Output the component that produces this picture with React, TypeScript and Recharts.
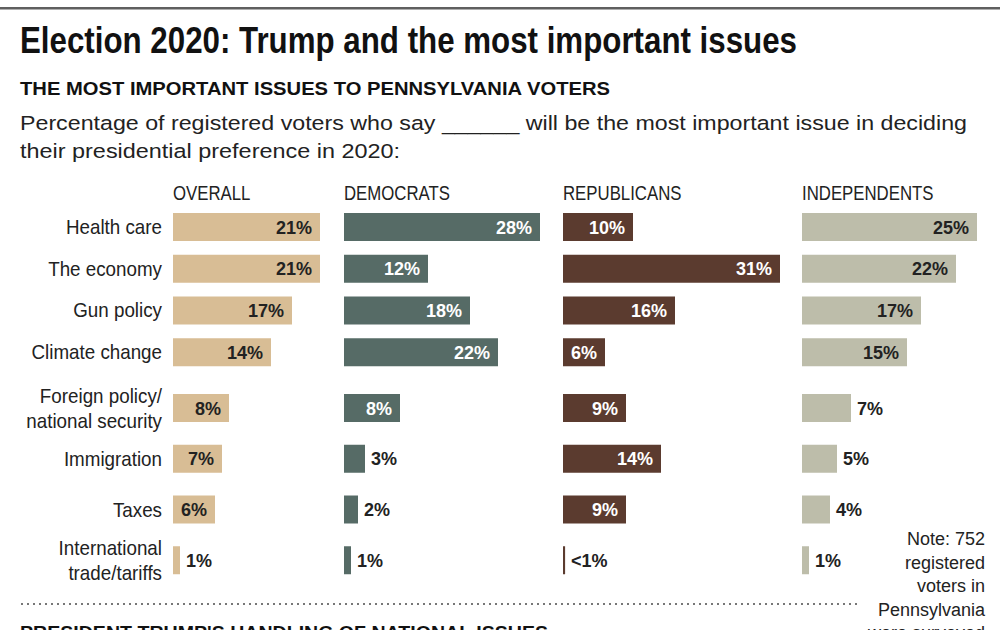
import React from 'react';
import { BarChart, Bar, XAxis, YAxis, LabelList } from 'recharts';

// issues, top to bottom ("\n" = two-line label)
const issues = [
  'Health care',
  'The economy',
  'Gun policy',
  'Climate change',
  'Foreign policy/\nnational security',
  'Immigration',
  'Taxes',
  'International\ntrade/tariffs',
];
const overall = [21, 21, 17, 14, 8, 7, 6, 1];
const democrats = [28, 12, 18, 22, 8, 3, 2, 1];
const republicans = [10, 31, 16, 6, 9, 14, 9, 0.3]; // last one is "<1%"
const independents = [25, 22, 17, 15, 7, 5, 4, 1];

const noteLines = ['Note: 752', 'registered', 'voters in', 'Pennsylvania', 'were surveyed'];

const FONT = '"Liberation Sans", Arial, sans-serif';
const LEFT = 173; // where the plot (first column) starts
const RIGHT = 990;
const PX = 7; // pixels per percentage point

const columns = [
  { key: 'overall', title: 'OVERALL', start: 173, color: '#d8bd95', labelColor: '#222', minInside: 6 },
  { key: 'democrats', title: 'DEMOCRATS', start: 344, color: '#566b66', labelColor: '#fff', minInside: 5 },
  { key: 'republicans', title: 'REPUBLICANS', start: 563, color: '#5b3b2f', labelColor: '#fff', minInside: 5 },
  { key: 'independents', title: 'INDEPENDENTS', start: 802, color: '#bdbdaa', labelColor: '#222', minInside: 8 },
];

const rows = issues.map((issue, i) => ({
  issue,
  overall: overall[i],
  democrats: democrats[i],
  republicans: republicans[i],
  independents: independents[i],
}));

const IssueTick = ({ x, y, payload }: any) => {
  const lines = String(payload.value).split('\n');
  const first = 7 - (lines.length - 1) * 12.5;
  return (
    <g transform={`translate(${x},${y}) scale(0.94,1)`}>
      <text x={0} y={first} textAnchor="end" fontSize={20} fill="#222" fontFamily={FONT}>
        {lines.map((l, i) => (
          <tspan key={i} x={0} dy={i ? 25 : 0}>{l}</tspan>
        ))}
      </text>
    </g>
  );
};

const valueLabel = (col: any) => (props: any) => {
  const { x, y, width, height, value } = props;
  const v = Number(value);
  const inside = v >= col.minInside;
  const text = v < 1 ? '<1%' : `${v}%`;
  return (
    <text
      x={inside ? x + width - 8 : x + width + 6}
      y={y + height / 2 + 6.5}
      textAnchor={inside ? 'end' : 'start'}
      fill={inside ? col.labelColor : '#222'}
      fontSize={18}
      fontWeight="bold"
      fontFamily={FONT}
    >
      {text}
    </text>
  );
};

// one chart per block of rows so the two-line rows can get more room
const IssueBlock = ({ data, top, height }: any) => (
  <div style={{ position: 'absolute', left: 0, top }}>
    <BarChart layout="vertical" width={1000} height={height} data={data} margin={{ top: 0, right: 1000 - RIGHT, bottom: 0, left: 0 }} barSize={28}>
      <YAxis
        yAxisId="labels"
        type="category"
        dataKey="issue"
        width={LEFT}
        interval={0}
        tickLine={false}
        axisLine={false}
        tickSize={0}
        tickMargin={11}
        tick={<IssueTick />}
      />
      {columns.map((c) => (
        <YAxis key={c.key} yAxisId={c.key} type="category" dataKey="issue" hide width={0} />
      ))}
      {columns.map((c) => (
        <XAxis
          key={c.key}
          xAxisId={c.key}
          type="number"
          hide
          height={0}
          allowDataOverflow
          domain={[-(c.start - LEFT) / PX, (RIGHT - c.start) / PX]}
        />
      ))}
      {columns.map((c) => (
        <Bar key={c.key} dataKey={c.key} xAxisId={c.key} yAxisId={c.key} fill={c.color} isAnimationActive={false}>
          <LabelList dataKey={c.key} content={valueLabel(c)} />
        </Bar>
      ))}
    </BarChart>
  </div>
);

const App = () => {
  return (
    <div style={{ position: 'absolute', left: 0, top: 0, width: 1000, height: 630, overflow: 'hidden', background: '#fff', fontFamily: FONT }}>
      <IssueBlock data={rows.slice(0, 4)} top={206} height={167} />
      <IssueBlock data={rows.slice(4)} top={383} height={203} />

      <svg width={1000} height={630} style={{ position: 'absolute', left: 0, top: 0, pointerEvents: 'none' }} fontFamily={FONT}>
        <rect x={0} y={7} width={1000} height={2.5} fill="#5f5f5f" />
        <text x={20} y={53} fontSize={37} fontWeight="bold" fill="#111" textLength={777} lengthAdjust="spacingAndGlyphs">
          Election 2020: Trump and the most important issues
        </text>
        <text x={20} y={95} fontSize={18.5} fontWeight="bold" fill="#111" textLength={590} lengthAdjust="spacingAndGlyphs">
          THE MOST IMPORTANT ISSUES TO PENNSYLVANIA VOTERS
        </text>
        <text x={20} y={130} fontSize={20.5} fill="#222" textLength={947} lengthAdjust="spacingAndGlyphs">
          Percentage of registered voters who say ______ will be the most important issue in deciding
        </text>
        <text x={20} y={158} fontSize={20.5} fill="#222" textLength={380} lengthAdjust="spacingAndGlyphs">
          their presidential preference in 2020:
        </text>

        {columns.map((c) => (
          <g key={c.key} transform={`translate(${c.start},200) scale(0.84,1)`}>
            <text x={0} y={0} fontSize={20} fill="#222">{c.title}</text>
          </g>
        ))}

        {noteLines.map((l, i) => (
          <text key={l} x={985} y={545 + i * 23.5} fontSize={18} fill="#222" textAnchor="end">{l}</text>
        ))}

        <line x1={21} y1={604} x2={858} y2={604} stroke="#777" strokeWidth={2} strokeDasharray="2 4" />
        <text x={20} y={639} fontSize={18.5} fontWeight="bold" fill="#111" textLength={528} lengthAdjust="spacingAndGlyphs">
          PRESIDENT TRUMP&apos;S HANDLING OF NATIONAL ISSUES
        </text>
      </svg>
    </div>
  );
};

export default App;
